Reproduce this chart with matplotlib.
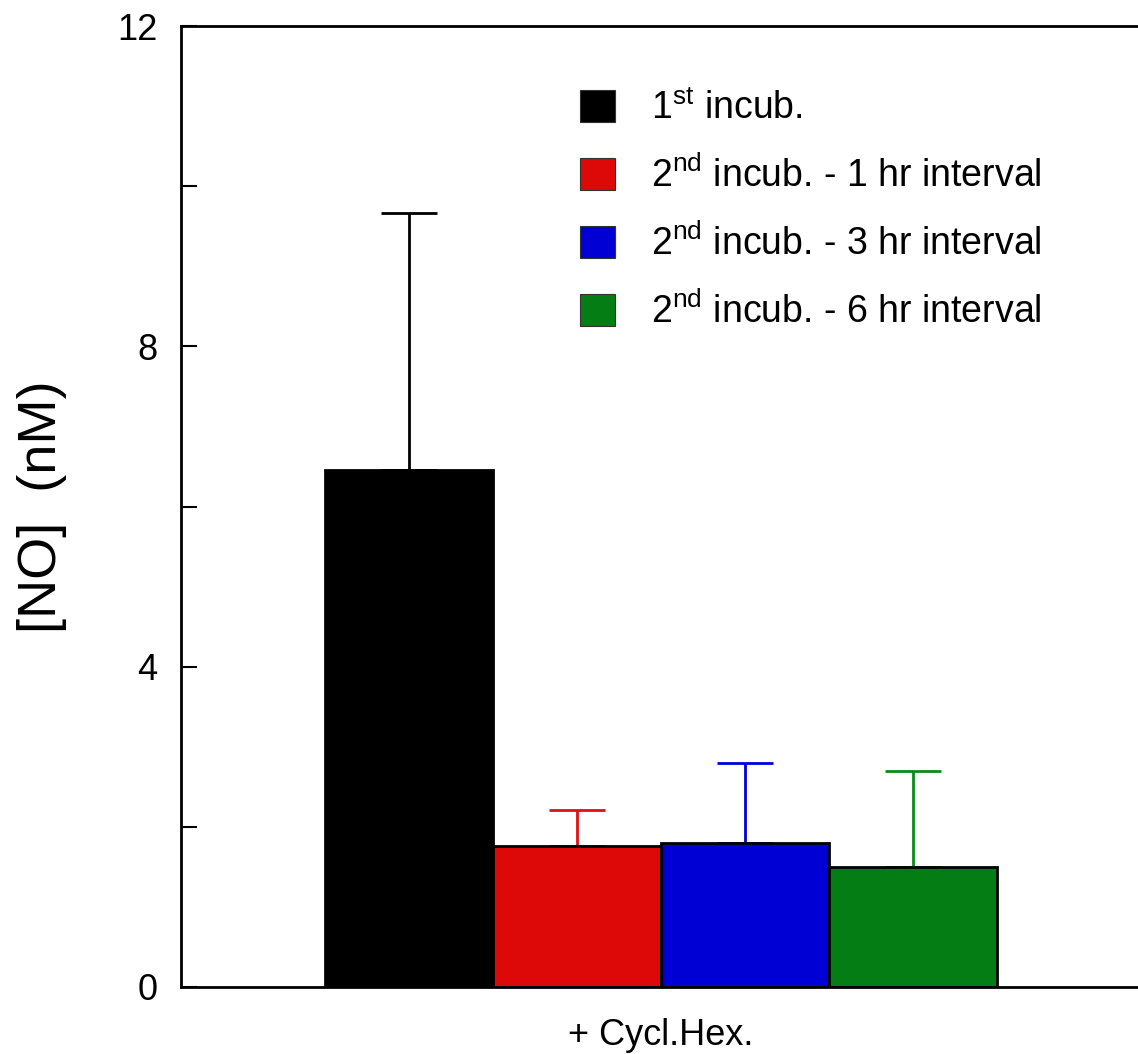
import matplotlib
matplotlib.use("Agg")
import matplotlib.pyplot as plt
from matplotlib.patches import Patch
import numpy as np

plt.rcParams['font.family'] = ['Liberation Sans', 'DejaVu Sans']
plt.rcParams['mathtext.fontset'] = 'custom'
plt.rcParams['mathtext.rm'] = 'Liberation Sans'
plt.rcParams['mathtext.it'] = 'Liberation Sans'

# data
group = "+ Cycl.Hex."
labels = ["1$^{\\rm st}$ incub.",
          "2$^{\\rm nd}$ incub. - 1 hr interval",
          "2$^{\\rm nd}$ incub. - 3 hr interval",
          "2$^{\\rm nd}$ incub. - 6 hr interval"]
means = [6.45, 1.76, 1.80, 1.50]
errs = [3.21, 0.45, 1.00, 1.20]
colors = ["#000000", "#dd0808", "#0000d4", "#037d14"]
err_colors = ["#000000", "#e01010", "#0000d8", "#0a8a1a"]

fig = plt.figure(figsize=(11.38, 10.54), dpi=100)
ax = fig.add_axes([181/1138, 67/1054, 960/1138, 961/1054])

width = 1.0
pos = (np.arange(len(means)) - 1.5) * width
for p, m, e, c, ec in zip(pos, means, errs, colors, err_colors):
    ax.errorbar(p, m, yerr=[[0], [e]], fmt='none', ecolor=ec,
                elinewidth=2, capsize=20.5, capthick=2, zorder=1)
    ax.bar(p, m, width=width, color=c, edgecolor='black', linewidth=2, zorder=2)

ax.set_xlim(-2.853, 2.853)
ax.set_ylim(0, 12)
ax.set_xticks([0])
ax.set_xticklabels([group])
ax.set_yticks([0, 4, 8, 12])
ax.set_yticks([2, 6, 10], minor=True)
ax.tick_params(axis='x', length=0, pad=22, labelsize=26)
ax.tick_params(axis='y', which='both', direction='in', length=11.5, width=1.5,
               labelsize=26, pad=17)
for s in ax.spines.values():
    s.set_linewidth(2)
ax.set_ylabel("[NO]  (nM)", fontsize=39, labelpad=36)

handles = [Patch(facecolor=c, edgecolor='#333333', linewidth=0.8) for c in colors]
ax.legend(handles, labels, loc='upper left', bbox_to_anchor=(0.4156, 0.933),
          frameon=False, fontsize=27, handlelength=0.94, handleheight=0.94,
          handletextpad=0.95, labelspacing=0.79, borderpad=0, borderaxespad=0)

fig.savefig("out.png", dpi=100)
